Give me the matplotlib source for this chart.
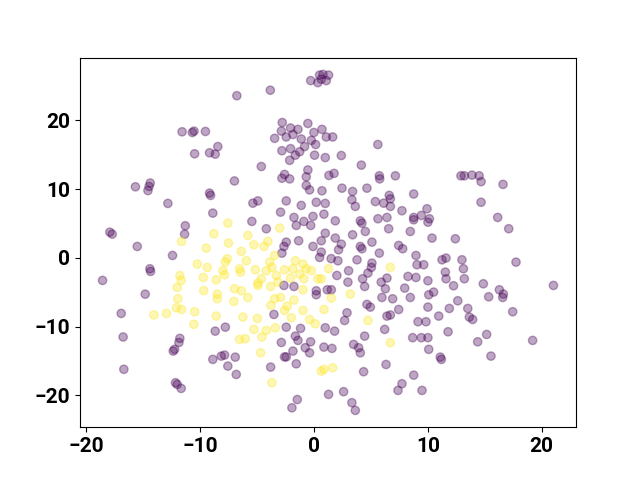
import matplotlib
matplotlib.use('Agg')
import matplotlib.pyplot as plt
import numpy as np

# class 0 (purple) points
x0 = [-11.6, -10.7, -10.55, -9.55, -10.5,
      -15.7, -14.5, -14.4, -14.6, -12.85, -11.32, -11.38, -17.95, -17.74, -15.54, -12.44, -14.43, -14.37, -18.59, -14.84,
      -0.3, 0.33, 0.48, 0.78, 0.63, 1.07, 1.27, -6.79, -3.85, -2.8, -0.55, -2.88, -2.07, -1.42, -2.45, -1.86, -3.47, -1.13,
      -0.02, 0.69, 1.07, -0.25, 0.13, -2.83, -2.07, -0.84, -1.27, -1.65, -2.15, 0.04, 0.98, -9.19, -8.69, -8.46, -4.64,
      -2.6, -2.15, -2.83, -0.55, -0.69, -7.0,
      1.63, 2.39, 5.6, 4.15, 1.3, 1.75, 5.73, 5.76, 7.14,
      12.9, 13.2, 13.87, 14.5, 14.67, 16.6,
      -0.69, -0.4, 0.69, -9.19, -9.1, -8.9, -5.38, -4.94, -2.45, -1.13, 0.19, 0.98, -2.95, -1.77, -0.9, -0.1, 0.86, -5.47,
      -4.2, -1.57, -0.3, 0.98, 0.63, -2.45, -2.65, -1.36, -2.83, -0.1, 0.63, 0.48, 1.5, -2.65, -1.77, 0.19, 0.19, 1.16,
      2.45, 4.64, 3.38, 6.6, 6.7, 6.7, 8.75, 3.32, 3.62, 5.38, 6.11, 7.72, 9.92, 9.42, 8.75, 8.75, 10.13, 10.0, 1.86,
      4.06, 4.2, 5.61, 6.4, 6.55, 8.45, 3.38, 4.5, 1.86, 2.39, 2.15, 5.08, 4.06, 4.2, 7.43, 7.78, 10.36, 5.73, 8.95,
      2.09, 3.77, 5.08, 5.03, 9.04, 9.63, 11.24, 11.59, 2.0, 3.03, 4.73, 8.25, 8.95, 10.0, 11.53, 11.59, 4.26, 6.4, 5.9,
      2.97, 4.44, 6.26, 7.96, 10.07, 10.5, 1.51, 5.96, 6.9, 8.45, 12.25,
      14.67, 16.13, 17.1, 12.41, 12.99, 13.12, 17.74, 13.2, 14.87, 16.28, 16.63, 16.57, 15.34, 12.62, 21.03,
      -16.95, -16.78, -16.72, -11.8, -11.88, -12.26, -12.38, -12.18, -12.03, -11.68,
      -8.69, -7.8, -3.53, -2.45, -1.19, -1.65, -1.42, -2.88, -0.31, -0.78, -0.4, -1.86, -2.6, -2.45, 0.98, 0.86, -8.9,
      -8.16, -7.87, -6.93, -7.58, -6.84, -3.82, -1.57, -1.48, -1.95, 1.27,
      2.89, 2.68, 4.64, 4.94, 6.4, 6.7, 7.43, 10.0, 11.88, 10.95, 9.13, 9.83, 1.8, 4.44, 6.2, 8.66, 9.42, 10.0, 11.77,
      3.47, 3.91, 4.06, 1.57, 10.07, 11.09, 11.18, 6.32, 4.35, 8.75, 7.72, 7.37, 9.48, 2.59, 3.32, 3.62,
      13.5, 13.64, 13.93, 17.45, 15.16, 14.37, 15.54, 19.2]
y0 = [18.35, 18.25, 18.45, 18.4, 15.15,
      10.35, 10.4, 10.9, 9.8, 7.93, 4.68, 3.46, 3.75, 3.46, 1.67, 0.36, -1.57, -1.96, -3.27, -5.27,
      25.8, 25.5, 26.6, 26.7, 26.0, 25.8, 26.6, 23.6, 24.4, 19.7, 19.56, 18.45, 18.9, 18.7, 17.6, 17.96, 17.4, 17.3,
      18.25, 18.7, 17.6, 17.1, 16.5, 15.6, 15.9, 16.2, 15.45, 14.95, 14.2, 14.95, 14.6, 15.3, 15.1, 16.2, 13.3,
      12.15, 11.5, 11.6, 12.8, 11.8, 11.2,
      17.6, 14.9, 16.5, 13.5, 12.0, 12.3, 11.95, 11.5, 11.95,
      11.95, 11.95, 12.05, 11.95, 11.1, 10.7,
      10.55, 9.9, 9.77, 9.43, 9.1, 6.52, 7.97, 8.3, 8.3, 7.64, 8.1, 7.93, 6.66, 5.89, 5.31, 6.04, 6.37, 5.31,
      4.25, 4.73, 4.73, 3.6, 2.5, 2.3, 1.67, 2.5, 0.7, 1.67, 0.85, 0.07, -0.1, -4.0, -4.15, -4.78, -5.35, -4.63,
      10.15, 10.15, 9.67, 9.1, 8.6, 7.5, 9.3, 8.47, 7.5, 8.2, 7.97, 6.87, 7.15, 6.18, 5.89, 5.55, 5.7, 5.2, 5.4,
      5.4, 5.06, 5.7, 5.89, 4.25, 3.85, 3.37, 3.85, 2.89, 2.0, 1.19, 2.3, 1.67, 1.34, 1.82, 1.34, 2.89, 0.7, 0.36,
      -0.41, -0.27, -0.75, -1.38, -0.99, -0.99, -0.27, -0.02, -2.55, -1.86, -2.2, -2.69, -2.84, -3.32, -2.06, -3.03, -3.03, -2.93, -3.52,
      -3.52, -4.15, -4.48, -4.39, -5.36, -4.97, -4.63, -5.75, -5.94, -5.75, -4.05,
      8.1, 5.89, 4.25, 2.79, -0.27, -1.57, -0.61, -3.03, -3.76, -4.63, -5.26, -5.75, -5.65, -6.23, -4.0,
      -8.07, -11.5, -16.2, -11.7, -12.3, -13.3, -13.55, -18.15, -18.4, -18.98,
      -10.65, -10.07, -8.22, -10.07, -10.25, -11.37, -12.0, -12.3, -12.2, -13.06, -13.8, -13.55, -14.4, -14.4, -10.16, -12.97, -14.76,
      -14.28, -14.13, -14.43, -15.73, -16.95, -15.88, -15.4, -20.6, -21.8, -19.85,
      -7.98, -9.1, -6.76, -7.15, -8.46, -8.3, -7.5, -7.15, -7.35, -8.46, -9.28, -9.28, -10.65, -11.37, -10.4, -11.6, -11.6, -11.6, -10.74,
      -12.58, -13.06, -13.8, -13.16, -13.3, -14.43, -14.76, -15.5, -16.55, -17.05, -18.3, -19.27, -19.27, -19.46, -21.06, -22.18,
      -7.35, -8.6, -8.95, -7.83, -11.13, -12.2, -14.28, -12.0]

# class 1 (yellow) points
x1 = [-11.65, -10.27, -11.8, -11.68, -9.74, -12.03, -11.97,
      -14.08, -12.97, -12.1, -11.65, -10.5, -10.57,
      -7.58, -8.81, -5.82, -7.52, -5.29, -4.41, -4.06, -3.03, -9.48, -6.4, -3.47, -7.63, -7.8, -5.96, -3.91, -1.65,
      -0.98, -0.69, -9.39, -8.02, -6.55, -6.46, -5.17, -4.2, -3.71, -2.6, -1.86, -2.07, -1.27, -0.25, -0.9, 0.33, 0.63,
      -7.87, -8.6, -4.64, -4.94, -4.94, -3.32, -3.18, -3.82, -6.99, -6.4, -5.82, -9.7, -8.51, -8.51, -7.05, -3.47,
      -2.95, -1.77, -0.98,
      6.7, 3.18, 1.51, 1.27,
      -8.6, -6.26, -4.99, -5.29, -4.2, -4.59, -6.55, -6.05, -3.41, -2.6, -2.36, -3.8, -2.0, -0.98, -0.4, 0.1, 0.86,
      -4.7, -3.71, 0.63, 0.86,
      4.73, 6.7, 1.63]
y1 = [2.4, -0.9, -2.55, -3.27, -2.84, -4.29, -5.94,
      -8.3, -8.07, -7.25, -7.5, -7.83, -9.67,
      5.06, 3.52, 3.27, 2.16, 1.92, 1.67, 2.4, 4.34, 1.43, 0.95, 0.36, -0.12, -0.6, -0.41, -0.61, -0.41,
      -0.9, -1.57, -1.38, -1.86, -1.57, -2.06, -1.72, -1.86, -1.38, -1.72, -1.57, -2.93, -2.35, -1.86, -3.03, -3.03, -3.03,
      -2.45, -3.18, -3.03, -3.66, -4.0, -2.55, -3.52, -4.15, -4.48, -4.78, -5.75, -4.75, -5.26, -5.94, -6.33, -5.94,
      -5.75, -6.13, -4.63,
      -1.38, -5.26, -5.84, -1.57,
      -8.46, -8.6, -8.8, -10.4, -10.55, -11.5, -11.85, -11.76, -10.16, -7.64, -7.0, -6.9, -8.7, -7.64, -8.95, -9.58, -7.5,
      -13.8, -18.15, -16.46, -16.2,
      -9.1, -12.34, -15.97]

x = np.array(x0 + x1)
y = np.array(y0 + y1)
labels = np.array([0] * len(x0) + [1] * len(x1))

plt.rcParams['font.family'] = ['Roboto', 'DejaVu Sans']
plt.rcParams['font.weight'] = 'bold'
plt.rcParams['xtick.labelsize'] = 15
plt.rcParams['ytick.labelsize'] = 15

fig = plt.figure(figsize=(6.4, 4.8), dpi=100)
plt.scatter(x, y, c=labels, cmap='viridis', alpha=0.35)

plt.savefig('out.png')
